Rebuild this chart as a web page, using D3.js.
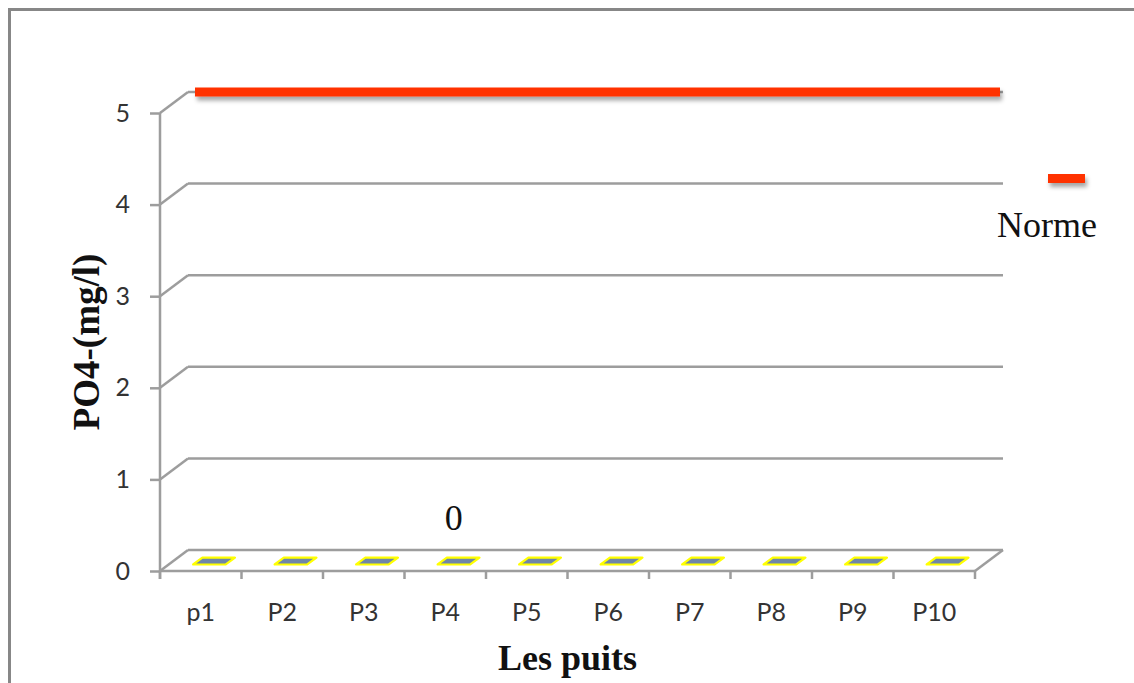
<!DOCTYPE html>
<html>
<head>
<meta charset="utf-8">
<script src="https://cdn.jsdelivr.net/npm/d3@7/dist/d3.min.js"></script>
<style>
  html, body { margin: 0; padding: 0; background: #fff; overflow: hidden; }
  svg { display: block; }
</style>
</head>
<body>
<svg id="chart" width="1134" height="683"></svg>
<script>
// Phosphate measurements per well (mg/l) and the regulatory limit
const wells = ["p1", "P2", "P3", "P4", "P5", "P6", "P7", "P8", "P9", "P10"];
const po4Values = [0, 0, 0, 0, 0, 0, 0, 0, 0, 0];
const normeValues = [5, 5, 5, 5, 5, 5, 5, 5, 5, 5];
const yTicks = [0, 1, 2, 3, 4, 5];
const labelledWell = "P4"; // the well whose value is printed

const svg = d3.select("#chart");
const W = 1134, H = 683;

// Outer chart border (runs off the right and bottom edges)
svg.append("rect")
  .attr("x", 9.5).attr("y", 9.5)
  .attr("width", W + 50).attr("height", H + 50)
  .attr("fill", "#fff")
  .attr("stroke", "#878787").attr("stroke-width", 3);

// Plot geometry: front plane plus a depth offset for the 3D back wall
const left = 160, right = 975;
const depth = { dx: 28, dy: -21 };

const x = d3.scaleBand().domain(wells).range([left, right]).padding(0);
const xBar = d3.scaleBand().domain(wells).range([left, right])
  .paddingInner(0.6).paddingOuter(0.3);
const y = d3.scaleLinear().domain([0, 5]).range([571, 113]);

const gridColor = "#9d9d9d";
const defs = svg.append("defs");
const shadow = defs.append("filter").attr("id", "shadow")
  .attr("filterUnits", "userSpaceOnUse")
  .attr("x", 0).attr("y", 0).attr("width", W).attr("height", H);
shadow.append("feDropShadow")
  .attr("dx", 2).attr("dy", 4).attr("stdDeviation", 2)
  .attr("flood-color", "#000").attr("flood-opacity", 0.35);

const grid = svg.append("g").attr("fill", "none")
  .attr("stroke", gridColor).attr("stroke-width", 2.5);

// Back wall gridlines and their diagonal links to the front axis
yTicks.forEach(v => {
  const yy = y(v);
  grid.append("line")
    .attr("x1", left + depth.dx).attr("x2", right + depth.dx)
    .attr("y1", yy + depth.dy).attr("y2", yy + depth.dy);
  grid.append("line")
    .attr("x1", left).attr("y1", yy)
    .attr("x2", left + depth.dx).attr("y2", yy + depth.dy);
});

// Floor: front edge and right side edge
grid.append("line")
  .attr("x1", left).attr("x2", right)
  .attr("y1", y(0)).attr("y2", y(0));
grid.append("line")
  .attr("x1", right).attr("y1", y(0))
  .attr("x2", right + depth.dx).attr("y2", y(0) + depth.dy);

// Y axis
const yAxis = d3.axisLeft(y).tickValues(yTicks).tickSize(10).tickPadding(20)
  .tickFormat(d3.format("d"));
const yg = svg.append("g").attr("transform", `translate(${left},0)`).call(yAxis);
yg.select(".domain").remove();
yg.selectAll(".tick line").attr("stroke", gridColor).attr("stroke-width", 2.5);
yg.selectAll(".tick text")
  .attr("fill", "#333").attr("font-family", "Lato, 'Open Sans', sans-serif")
  .attr("font-size", 25);
svg.append("line")
  .attr("x1", left).attr("x2", left)
  .attr("y1", y(5)).attr("y2", y(0) + 8)
  .attr("stroke", gridColor).attr("stroke-width", 2.5);

// X axis ticks at category boundaries, labels at category centres
const xBounds = wells.map(d => x(d)).concat([right]);
svg.append("g").selectAll("line").data(xBounds).join("line")
  .attr("x1", d => d).attr("x2", d => d)
  .attr("y1", y(0)).attr("y2", y(0) + 8)
  .attr("stroke", gridColor).attr("stroke-width", 2.5);
svg.append("g").selectAll("text").data(wells).join("text")
  .attr("x", d => x(d) + x.bandwidth() / 2)
  .attr("y", 621)
  .attr("text-anchor", "middle")
  .attr("fill", "#333")
  .attr("font-family", "Lato, 'Open Sans', sans-serif")
  .attr("font-size", 25)
  .text(d => d);

// Columns (flat here, each drawn as its top face on the floor)
const f0 = 0.31, f1 = 0.64;
const barPath = (d, i) => {
  const x0 = xBar(d), x1 = xBar(d) + xBar.bandwidth();
  const top = y(po4Values[i]);
  const p = (xx, f) => [xx + depth.dx * f, top + depth.dy * f];
  const pts = [p(x0, f0), p(x1, f0), p(x1, f1), p(x0, f1)];
  return "M" + pts.map(q => q.join(",")).join("L") + "Z";
};
svg.append("g").selectAll("path").data(wells).join("path")
  .attr("d", barPath)
  .attr("fill", "#6f87a8")
  .attr("stroke", "#ffff00").attr("stroke-width", 2.2)
  .attr("stroke-linejoin", "round");

// Value label above the chosen well
const li = wells.indexOf(labelledWell);
svg.append("text")
  .attr("x", xBar(labelledWell) + xBar.bandwidth() / 2 + depth.dx * 0.3)
  .attr("y", y(po4Values[li]) - 41)
  .attr("text-anchor", "middle")
  .attr("font-family", "'Liberation Serif', 'Times New Roman', serif")
  .attr("font-size", 36)
  .attr("fill", "#111")
  .text(d3.format("d")(po4Values[li]));

// Norme reference line along the back wall
const normeLine = d3.line()
  .x((d, i) => i === 0 ? left + depth.dx + 7 : right + depth.dx - 3)
  .y(d => y(d) + depth.dy);
const ends = [normeValues[0], normeValues[normeValues.length - 1]];
svg.append("path")
  .datum(ends)
  .attr("d", normeLine)
  .attr("fill", "none")
  .attr("stroke", "#ff3300").attr("stroke-width", 9)
  .attr("filter", "url(#shadow)");

// Legend
svg.append("line")
  .attr("x1", 1048).attr("x2", 1085)
  .attr("y1", 178.5).attr("y2", 178.5)
  .attr("stroke", "#ff3300").attr("stroke-width", 9)
  .attr("filter", "url(#shadow)");
svg.append("text")
  .attr("x", 1047).attr("y", 237)
  .attr("text-anchor", "middle")
  .attr("font-family", "'Liberation Serif', 'Times New Roman', serif")
  .attr("font-size", 36)
  .attr("fill", "#111")
  .text("Norme");

// Axis titles
svg.append("text")
  .attr("x", (left + right) / 2).attr("y", 670)
  .attr("text-anchor", "middle")
  .attr("font-family", "'Liberation Serif', 'Times New Roman', serif")
  .attr("font-size", 36).attr("font-weight", "bold")
  .attr("fill", "#111")
  .text("Les puits");
svg.append("text")
  .attr("transform", "translate(86,342) rotate(-90)")
  .attr("text-anchor", "middle")
  .attr("dominant-baseline", "central")
  .attr("font-family", "'Liberation Serif', 'Times New Roman', serif")
  .attr("font-size", 37).attr("font-weight", "bold")
  .attr("fill", "#111")
  .text("PO4-(mg/l)");
</script>
</body>
</html>
